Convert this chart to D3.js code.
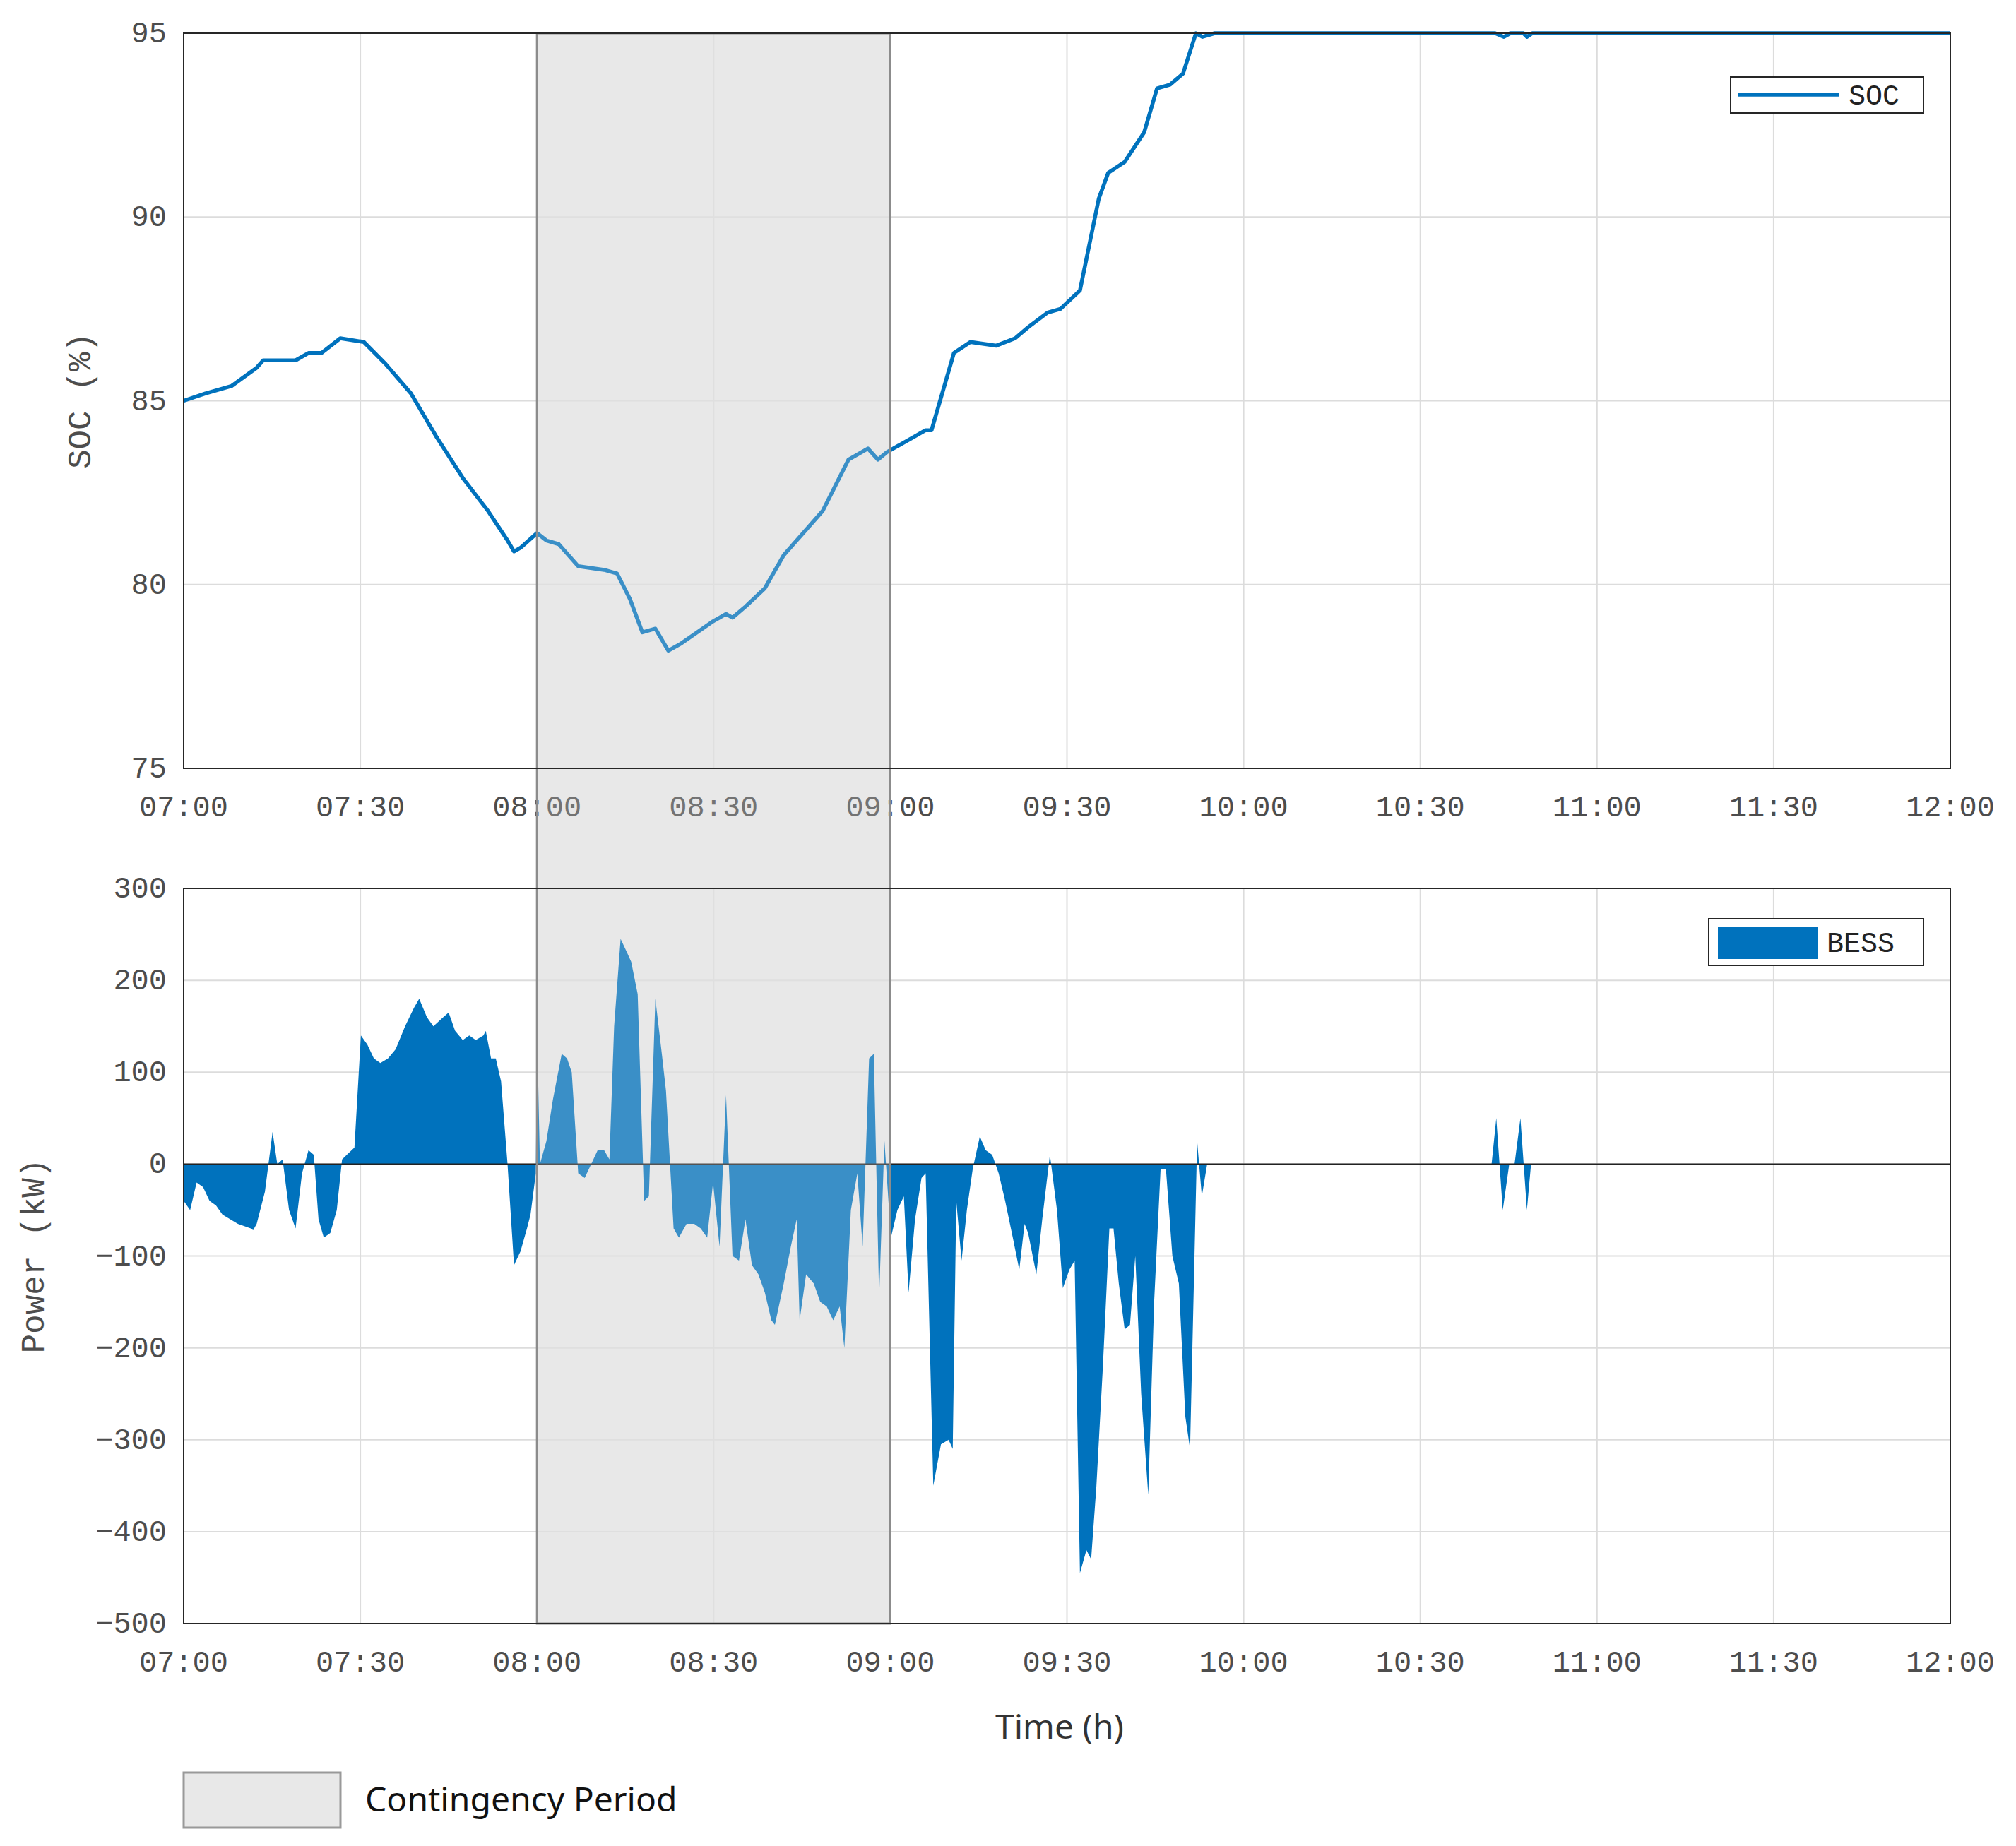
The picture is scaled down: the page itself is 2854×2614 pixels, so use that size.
<!DOCTYPE html>
<html>
<head>
<meta charset="utf-8">
<script src="https://cdn.jsdelivr.net/npm/d3@7"></script>
<style>
  body { margin: 0; background: #fff; }
  text { font-family: "Liberation Mono", "DejaVu Sans Mono", monospace; }
</style>
</head>
<body>
<svg id="chart" width="2854" height="2614"></svg>
<script>
// minutes after 07:00, SOC in %
const socData = [
  [0,85.0],[3.7,85.2],[8.1,85.4],[12.4,85.9],[13.5,86.1],[15.7,86.1],[19.0,86.1],[21.2,86.3],[23.4,86.3],
  [26.6,86.7],[30.6,86.6],[34.3,86.0],[38.6,85.2],[43.0,84.0],[47.4,82.9],[51.7,82.0],[55.0,81.2],
  [56.1,80.9],[57.2,81.0],[60.0,81.4],[61.6,81.2],[63.7,81.1],[67.0,80.5],[71.4,80.4],[73.6,80.3],
  [75.8,79.6],[77.9,78.7],[80.1,78.8],[82.3,78.2],[84.5,78.4],[89.9,79.0],[92.1,79.2],[93.2,79.1],
  [95.4,79.4],[98.7,79.9],[101.9,80.8],[104.1,81.2],[108.5,82.0],[112.9,83.4],[115.1,83.6],[116.2,83.7],
  [117.9,83.4],[119.4,83.6],[123.8,84.0],[126.0,84.2],[127.0,84.2],[130.8,86.3],[133.6,86.6],[138.0,86.5],
  [141.2,86.7],[143.4,87.0],[146.7,87.4],[148.9,87.5],[152.2,88.0],[155.4,90.5],[157.0,91.2],[159.8,91.5],
  [163.1,92.3],[165.3,93.5],[167.5,93.6],[169.7,93.9],[171.9,95.0],[173.0,94.9],[175.1,95.0],[222.7,95.0],
  [224.2,94.9],[225.3,95.0],[226.4,95.0],[227.5,95.0],[228.1,94.9],[229.0,95.0],[300,95.0]
];
// minutes after 07:00, BESS power in kW
const powerData = [
  [0,-40],[1.1,-50],[2.2,-20],[3.3,-25],[4.4,-40],[5.5,-45],[6.6,-55],[9.2,-65],[11.4,-70],[11.8,-72],
  [12.4,-65],[13.8,-30],[15.1,35],[15.9,0],[16.8,5],[17.9,-50],[19.0,-70],[20.1,-10],[21.2,15],[22.1,10],
  [22.9,-60],[23.8,-80],[24.9,-75],[26.0,-50],[26.9,5],[27.7,10],[29.0,18],[30.1,140],[31.2,130],
  [32.3,115],[33.4,110],[34.7,115],[36.0,125],[37.6,150],[39.1,170],[40.0,180],[41.3,160],[42.4,150],
  [44.1,160],[45.0,165],[46.1,145],[47.4,135],[48.5,140],[49.6,135],[50.9,140],[51.3,145],[52.2,115],
  [53.0,115],[53.9,90],[55.0,0],[56.1,-110],[57.2,-95],[58.3,-70],[58.9,-55],[59.8,-10],[60.0,150],
  [60.5,0],[61.6,25],[62.7,70],[64.2,120],[65.1,115],[65.9,100],[67.0,-10],[68.1,-15],[69.2,0],
  [70.3,15],[71.4,15],[72.3,5],[73.1,150],[74.2,245],[75.3,230],[76.0,220],[77.1,185],[78.2,-40],
  [79.0,-35],[80.1,180],[81.2,120],[81.9,80],[83.2,-70],[84.1,-80],[85.4,-65],[86.7,-65],[87.8,-70],
  [88.9,-80],[89.9,-20],[91.0,-90],[92.1,75],[93.2,-100],[94.3,-105],[95.4,-60],[96.5,-110],[97.6,-120],
  [98.7,-140],[99.8,-170],[100.4,-175],[101.9,-130],[103.1,-90],[104.1,-60],[104.6,-170],[105.7,-120],
  [107.0,-130],[108.1,-150],[109.2,-155],[110.3,-170],[111.4,-155],[112.2,-200],[113.3,-50],[114.4,-10],
  [115.3,-90],[116.4,115],[117.2,120],[118.1,-145],[119.0,25],[120.1,-80],[121.2,-50],[122.3,-35],
  [123.1,-140],[124.2,-60],[125.3,-15],[126.0,-10],[127.3,-350],[128.6,-305],[129.9,-300],[130.6,-310],
  [131.2,-40],[132.1,-105],[133.0,-50],[134.0,-5],[135.2,30],[136.2,15],[137.3,10],[138.4,-10],
  [139.5,-40],[140.8,-80],[141.9,-115],[142.8,-65],[143.4,-75],[144.8,-120],[145.8,-60],[147.1,10],
  [148.3,-50],[149.3,-135],[150.4,-115],[151.3,-105],[152.2,-445],[153.3,-420],[154.1,-430],[155.0,-350],
  [156.1,-220],[157.2,-70],[157.9,-70],[158.8,-130],[159.8,-180],[160.7,-175],[161.6,-100],[162.6,-250],
  [163.8,-360],[164.8,-150],[165.9,-5],[166.8,-5],[167.9,-100],[169.0,-130],[170.1,-275],[170.9,-310],
  [172.1,25],[172.9,-35],[173.8,0],[222.1,0],[222.9,50],[224.0,-50],[225.1,0],[226.0,0],[227.0,50],
  [228.1,-50],[228.8,0],[300,0]
];
const timeTicks = ["07:00","07:30","08:00","08:30","09:00","09:30","10:00","10:30","11:00","11:30","12:00"];
const socTicks = [75, 80, 85, 90, 95];
const powerTicks = [-500, -400, -300, -200, -100, 0, 100, 200, 300];
const contingency = [60, 120];

const blue = "#0072bd", axisCol = "#262626", tickCol = "#4d4d4d"
const svg = d3.select("#chart")
const left = 260, right = 2761
const x = d3.scaleLinear().domain([0, 300]).range([left, right])
const ySoc = d3.scaleLinear().domain([75, 95]).range([1088, 47])
const yPow = d3.scaleLinear().domain([-500, 300]).range([2299, 1258])

// contingency underlay spanning both plots
const shadeTop = ySoc.range()[1], shadeBot = yPow.range()[0]
svg.append("rect")
   .attr("x", x(contingency[0])).attr("y", shadeTop)
   .attr("width", x(contingency[1]) - x(contingency[0])).attr("height", shadeBot - shadeTop)
   .attr("fill", "#e8e8e8")

function panel(y, ticks, label, labelX) {
  const g = svg.append("g")
  const [y0, y1] = y.range()
  // grid
  g.selectAll(".gx").data(d3.range(0, 301, 30)).join("line")
   .attr("x1", d => x(d)).attr("x2", d => x(d)).attr("y1", y1).attr("y2", y0)
   .attr("stroke", "#dcdcdc").attr("stroke-width", 2)
  g.selectAll(".gy").data(ticks).join("line")
   .attr("x1", left).attr("x2", right).attr("y1", d => y(d)).attr("y2", d => y(d))
   .attr("stroke", "#dcdcdc").attr("stroke-width", 2)
  // tick labels
  g.selectAll(".tx").data(timeTicks).join("text")
   .attr("x", (d, i) => x(i * 30)).attr("y", y0 + 68)
   .attr("text-anchor", "middle").attr("font-size", 42).attr("fill", tickCol).text(d => d)
  g.selectAll(".ty").data(ticks).join("text")
   .attr("x", left - 24).attr("y", d => y(d) + 13)
   .attr("text-anchor", "end").attr("font-size", 42).attr("fill", tickCol)
   .text(d => d < 0 ? "\u2212" + Math.abs(d) : d)
  svg.append("text")
   .attr("transform", `translate(${labelX},${(y0 + y1) / 2}) rotate(-90)`)
   .attr("text-anchor", "middle").attr("font-size", 46).attr("fill", tickCol).text(label)
  return g
}

panel(ySoc, socTicks, "SOC (%)", 128)
panel(yPow, powerTicks, "Power (kW)", 62)

// SOC line
svg.append("path").datum(socData)
   .attr("d", d3.line().x(d => x(d[0])).y(d => ySoc(d[1])))
   .attr("fill", "none").attr("stroke", blue).attr("stroke-width", 5.5).attr("stroke-linejoin", "round")

// BESS area
svg.append("path").datum(powerData)
   .attr("d", d3.area().x(d => x(d[0])).y0(yPow(0)).y1(d => yPow(d[1])))
   .attr("fill", blue)
svg.append("line")
   .attr("x1", left).attr("x2", right).attr("y1", yPow(0)).attr("y2", yPow(0))
   .attr("stroke", "#222").attr("stroke-width", 2)

// contingency overlay (lightens marks inside)
svg.append("rect")
   .attr("x", x(contingency[0])).attr("y", shadeTop)
   .attr("width", x(contingency[1]) - x(contingency[0])).attr("height", shadeBot - shadeTop)
   .attr("fill", "rgba(232,232,232,0.25)").attr("stroke", "#8c8c8c").attr("stroke-width", 3)

// axes boxes
;[ySoc, yPow].forEach(y => {
  svg.append("rect").attr("x", left).attr("y", y.range()[1])
     .attr("width", right - left).attr("height", y.range()[0] - y.range()[1])
     .attr("fill", "none").attr("stroke", axisCol).attr("stroke-width", 2)
})

// legends
svg.append("rect").attr("x", 2450).attr("y", 109).attr("width", 273).attr("height", 51)
   .attr("fill", "#fff").attr("stroke", axisCol).attr("stroke-width", 2)
svg.append("line").attr("x1", 2461).attr("x2", 2603).attr("y1", 134).attr("y2", 134)
   .attr("stroke", blue).attr("stroke-width", 5.5)
svg.append("text").attr("x", 2617).attr("y", 148).attr("font-size", 40).attr("fill", "#222").text("SOC")

svg.append("rect").attr("x", 2419).attr("y", 1301).attr("width", 304).attr("height", 66)
   .attr("fill", "#fff").attr("stroke", axisCol).attr("stroke-width", 2)
svg.append("rect").attr("x", 2432).attr("y", 1312).attr("width", 142).attr("height", 46).attr("fill", blue)
svg.append("text").attr("x", 2586).attr("y", 1348).attr("font-size", 40).attr("fill", "#222").text("BESS")

// x label and bottom legend
svg.append("text").attr("x", 1500).attr("y", 2462).attr("text-anchor", "middle")
   .attr("font-size", 48).attr("fill", "#333").style("font-family", "'Noto Sans', sans-serif").text("Time (h)")
svg.append("rect").attr("x", 260).attr("y", 2510).attr("width", 222).attr("height", 78)
   .attr("fill", "#e8e8e8").attr("stroke", "#999").attr("stroke-width", 3)
svg.append("text").attr("x", 517).attr("y", 2565).attr("font-size", 48).attr("fill", "#111")
   .style("font-family", "'Noto Sans', sans-serif").text("Contingency Period")
</script>
</body>
</html>
